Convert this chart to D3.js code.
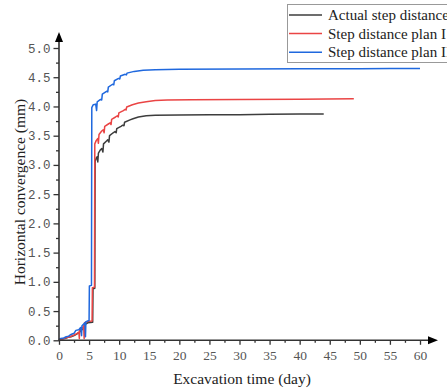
<!DOCTYPE html>
<html>
<head>
<meta charset="utf-8">
<script src="https://cdn.jsdelivr.net/npm/d3@7"></script>
<style>
  html, body { margin: 0; padding: 0; background: #fff; }
  svg { display: block; }
</style>
</head>
<body>
<svg id="chart" width="447" height="389"></svg>
<script>
// Series: [time (day), horizontal convergence (mm)]
const actualStep = [
  [0,0.01],[0.5,0.02],[1,0.03],[1.5,0.05],[2,0.06],[2.5,0.08],[3,0.11],[3.3,0.13],[3.9,0.19],
  [4.3,0.27],[4.8,0.3],[5.6,0.31],[5.65,0.88],[5.95,0.89],[6.0,3.06],[6.2,3.12],[6.35,3.14],
  [6.45,3.05],[6.55,3.2],[6.9,3.26],[7.1,3.28],[7.3,3.22],[7.4,3.36],[7.9,3.41],[8.1,3.43],
  [8.3,3.39],[8.4,3.5],[9.0,3.55],[9.3,3.57],[9.5,3.55],[9.6,3.62],[10.3,3.66],[10.6,3.68],
  [10.8,3.67],[10.9,3.73],[11.8,3.77],[12.3,3.79],[13.2,3.82],[14.5,3.84],[16,3.85],
  [20,3.855],[25,3.86],[30,3.86],[35,3.865],[40,3.87],[44,3.87]
];
const planI = [
  [0,0.01],[0.5,0.02],[1,0.04],[1.5,0.05],[2,0.07],[2.5,0.09],[3,0.12],[3.3,0.14],[3.38,0.03],
  [3.45,0.18],[3.9,0.2],[4.1,0.25],[4.18,0.03],[4.25,0.3],[4.7,0.32],[5.5,0.33],[5.55,0.9],
  [5.9,0.91],[5.95,3.36],[6.2,3.42],[6.45,3.45],[6.55,3.37],[6.65,3.52],[7.1,3.58],[7.35,3.6],
  [7.5,3.55],[7.6,3.66],[8.2,3.7],[8.5,3.72],[8.65,3.69],[8.75,3.78],[9.4,3.82],[9.7,3.84],
  [9.85,3.82],[9.95,3.89],[10.7,3.93],[11.0,3.95],[11.15,3.94],[11.25,3.99],[12.2,4.03],
  [13.2,4.06],[14.5,4.08],[16,4.1],[18,4.11],[22,4.115],[30,4.12],[40,4.125],[49,4.13]
];
const planII = [
  [0,0.02],[0.3,0.03],[0.8,0.04],[1.2,0.06],[1.6,0.07],[2.0,0.1],[2.5,0.12],[2.8,0.17],
  [3.3,0.18],[3.6,0.22],[3.75,0.08],[3.82,0.25],[4.3,0.3],[4.4,0.06],[4.47,0.32],[5.0,0.34],
  [5.05,0.93],[5.4,0.94],[5.45,3.98],[5.7,4.03],[6.1,4.04],[6.25,3.93],[6.35,4.08],[6.9,4.12],
  [7.1,4.11],[7.2,4.21],[7.9,4.26],[8.1,4.25],[8.2,4.33],[8.9,4.38],[9.1,4.37],[9.2,4.44],
  [9.9,4.48],[10.1,4.47],[10.2,4.52],[11.0,4.55],[11.2,4.54],[11.3,4.57],[12.5,4.6],
  [14,4.62],[16,4.63],[20,4.635],[30,4.64],[40,4.645],[50,4.645],[55,4.65],[60,4.65]
];
const seriesNames = ["Actual step distance", "Step distance plan I", "Step distance plan II"];
const seriesColors = ["#3d3d3d", "#ea4444", "#1f68de"];
const seriesData = [actualStep, planI, planII];
const xTicks = [0, 5, 10, 15, 20, 25, 30, 35, 40, 45, 50, 55, 60];
const yTicks = [0, 0.5, 1.0, 1.5, 2.0, 2.5, 3.0, 3.5, 4.0, 4.5, 5.0];

const svg = d3.select("#chart");
const x = d3.scaleLinear().domain([0, 60]).range([59, 420]);
const y = d3.scaleLinear().domain([0, 5]).range([340.3, 48]);
const axisColor = "#333";

// lines
const line = d3.line().x(d => x(d[0])).y(d => y(d[1]));
seriesData.forEach((s, i) => {
  svg.append("path").datum(s)
    .attr("d", line)
    .attr("fill", "none")
    .attr("stroke", seriesColors[i])
    .attr("stroke-width", 1.5)
    .attr("stroke-linejoin", "round");
});

// x axis
const gx = svg.append("g").attr("transform", `translate(0,${y(0)})`);
gx.call(d3.axisBottom(x).tickValues(d3.range(2.5, 60, 5)).tickSize(2.5).tickFormat(""));
gx.call(g => g.select(".domain").remove());
const gx2 = svg.append("g").attr("transform", `translate(0,${y(0)})`);
gx2.call(d3.axisBottom(x).tickValues(xTicks).tickSize(4.5).tickPadding(6).tickFormat(d3.format("d")));
gx2.select(".domain").remove();
[gx, gx2].forEach(g => g.selectAll("line").attr("stroke", axisColor).attr("stroke-width", 1.3));
gx2.selectAll("text")
  .attr("font-family", "'Liberation Serif', serif")
  .attr("font-size", 13.5)
  .attr("fill", "#555");

// y axis
const gy = svg.append("g").attr("transform", `translate(${x(0)},0)`);
gy.call(d3.axisLeft(y).tickValues(d3.range(0.25, 5, 0.5)).tickSize(3).tickFormat(""));
gy.select(".domain").remove();
const gy2 = svg.append("g").attr("transform", `translate(${x(0)},0)`);
gy2.call(d3.axisLeft(y).tickValues(yTicks).tickSize(5.5).tickPadding(3).tickFormat(d => d3.format(".1f")(d)));
gy2.select(".domain").remove();
[gy, gy2].forEach(g => g.selectAll("line").attr("stroke", axisColor).attr("stroke-width", 1.3));
gy2.selectAll("text")
  .attr("font-family", "'Liberation Mono', monospace")
  .attr("font-size", 12.5)
  .attr("fill", "#555");

// axis lines with arrowheads
svg.append("line").attr("x1", x(0)).attr("x2", x(0)).attr("y1", y(0) + 0.5).attr("y2", 38)
  .attr("stroke", axisColor).attr("stroke-width", 1.6);
svg.append("path").attr("d", `M${x(0)},32 L${x(0) - 4},42 L${x(0) + 4},42 Z`).attr("fill", "#000");
svg.append("line").attr("x1", x(0) - 0.5).attr("x2", 432).attr("y1", y(0)).attr("y2", y(0))
  .attr("stroke", axisColor).attr("stroke-width", 1.6);
svg.append("path").attr("d", `M438,${y(0)} L428,${y(0) - 4} L428,${y(0) + 4} Z`).attr("fill", "#000");

// axis titles
svg.append("text")
  .attr("x", 242).attr("y", 384)
  .attr("text-anchor", "middle")
  .attr("font-family", "'Liberation Serif', serif")
  .attr("font-size", 15.5)
  .attr("fill", "#222")
  .text("Excavation time (day)");
svg.append("text")
  .attr("transform", "translate(25,192) rotate(-90)")
  .attr("text-anchor", "middle")
  .attr("font-family", "'Liberation Serif', serif")
  .attr("font-size", 15.5)
  .attr("fill", "#222")
  .text("Horizontal convergence (mm)");

// legend
const lg = svg.append("g");
lg.append("rect").attr("x", 287.5).attr("y", 4.5).attr("width", 170).attr("height", 58)
  .attr("fill", "#fff").attr("stroke", "#999").attr("stroke-width", 1);
seriesNames.forEach((name, i) => {
  const ly = 15 + i * 18.6;
  lg.append("line").attr("x1", 289).attr("x2", 322).attr("y1", ly).attr("y2", ly)
    .attr("stroke", seriesColors[i]).attr("stroke-width", 1.5);
  lg.append("text").attr("x", 328).attr("y", ly + 5)
    .attr("font-family", "'Liberation Serif', serif")
    .attr("font-size", 15)
    .attr("fill", "#222")
    .text(name);
});
</script>
</body>
</html>
